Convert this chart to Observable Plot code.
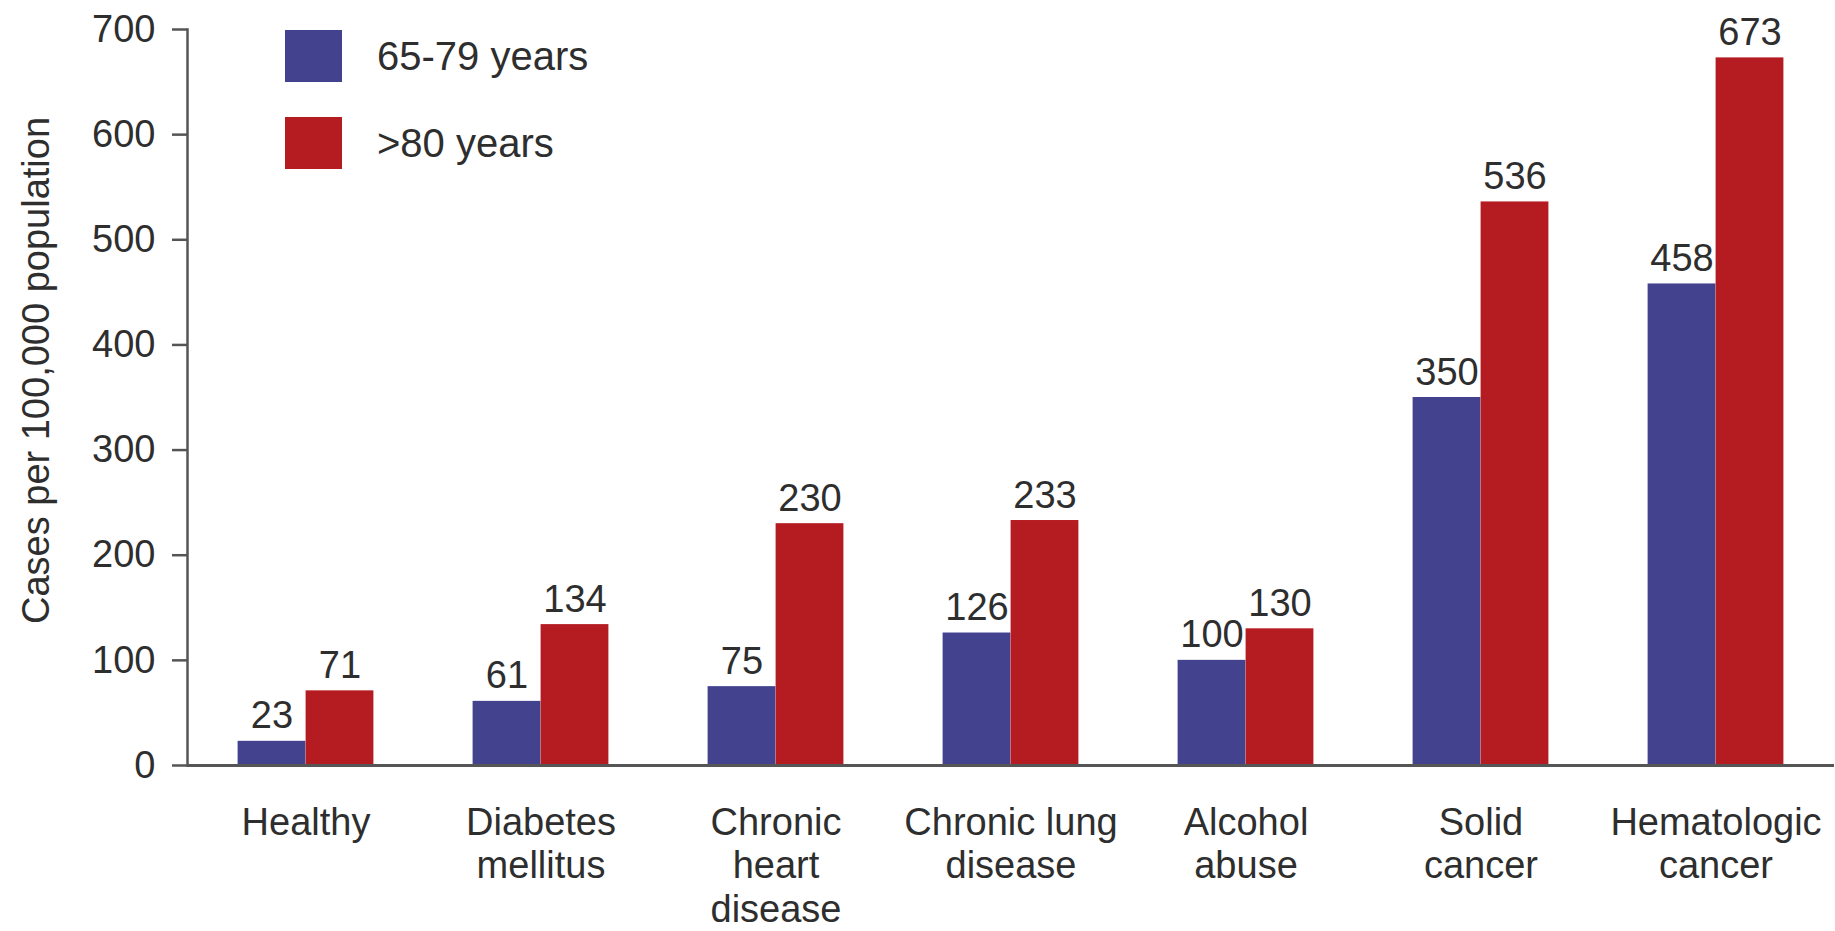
<!DOCTYPE html>
<html>
<head>
<meta charset="utf-8">
<script src="https://cdn.jsdelivr.net/npm/d3@7"></script>
<script src="https://cdn.jsdelivr.net/npm/@observablehq/plot@0.6"></script>
<style>
  body { margin: 0; background: #fff; font-family: "Liberation Sans", Arial, Helvetica, sans-serif; }
  #chart { position: relative; width: 1835px; height: 931px; color: #2e2e2e; }
  #chart svg { display: block; }
  .legend { position: absolute; left: 285px; top: 30px; }
  .legend .item { display: flex; align-items: center; height: 52px; margin-bottom: 35px; }
  .legend .swatch { width: 57px; height: 52px; margin-right: 35px; }
  .legend .name { font-size: 40px; color: #2e2e2e; white-space: nowrap; }
</style>
</head>
<body>
<div id="chart"></div>
<script>
// Incidence by underlying condition, two age groups
const categories = [
  "Healthy",
  "Diabetes\nmellitus",
  "Chronic\nheart\ndisease",
  "Chronic lung\ndisease",
  "Alcohol\nabuse",
  "Solid\ncancer",
  "Hematologic\ncancer"
];
const ages65to79 = [23, 61, 75, 126, 100, 350, 458];
const ages80plus = [71, 134, 230, 233, 130, 536, 673];
const seriesNames = ["65-79 years", ">80 years"];
const seriesColors = ["#42428f", "#b51c22"];
const yTicks = [0, 100, 200, 300, 400, 500, 600, 700];
const yLabel = "Cases per 100,000 population";

const rowsYoung = categories.map((c, i) => ({category: c, value: ages65to79[i]}));
const rowsOld = categories.map((c, i) => ({category: c, value: ages80plus[i]}));

const ink = "#2e2e2e";
const axisInk = "#555";

const plot = Plot.plot({
  width: 1835,
  height: 931,
  marginLeft: 187,
  marginRight: 1,
  marginTop: 29,
  marginBottom: 166,
  style: {fontFamily: "'Liberation Sans', Arial, Helvetica, sans-serif", color: ink, background: "#fff"},
  x: {domain: categories, padding: 0},
  y: {domain: [0, 700]},
  marks: [
    // bars: younger group on the left half of each pair, older on the right
    Plot.barY(rowsYoung, {x: "category", y: "value", fill: seriesColors[0], insetLeft: 49.6, insetRight: 117.6}),
    Plot.barY(rowsOld, {x: "category", y: "value", fill: seriesColors[1], insetLeft: 117.6, insetRight: 49.6}),
    // value labels above each bar
    Plot.text(rowsYoung, {x: "category", y: "value", text: (d) => String(d.value), dx: -34, dy: -13, lineAnchor: "bottom", fontSize: 38, fill: ink}),
    Plot.text(rowsOld, {x: "category", y: "value", text: (d) => String(d.value), dx: 34, dy: -13, lineAnchor: "bottom", fontSize: 38, fill: ink}),
    // axes
    Plot.axisY({ticks: yTicks, tickSize: 15, tickPadding: 17, fontSize: 38, stroke: axisInk, strokeWidth: 2.5, fill: ink, label: null}),
    Plot.frame({anchor: "left", stroke: axisInk, strokeWidth: 2.5}),
    Plot.ruleY([0], {stroke: axisInk, strokeWidth: 3}),
    Plot.axisX({tickSize: 0, tickPadding: 38, fontSize: 38, lineHeight: 1.15, fill: ink, label: null}),
    Plot.text([yLabel], {frameAnchor: "left", textAnchor: "middle", rotate: -90, dx: -151, dy: -27, lineAnchor: "middle", fontSize: 38, fill: ink})
  ]
});

const chart = document.getElementById("chart");
chart.appendChild(plot);

// legend over the upper-left of the plot area
const legend = document.createElement("div");
legend.className = "legend";
seriesNames.forEach((name, i) => {
  const item = document.createElement("div");
  item.className = "item";
  const sw = document.createElement("div");
  sw.className = "swatch";
  sw.style.background = seriesColors[i];
  const label = document.createElement("span");
  label.className = "name";
  label.textContent = name;
  item.appendChild(sw);
  item.appendChild(label);
  legend.appendChild(item);
});
chart.appendChild(legend);
</script>
</body>
</html>
